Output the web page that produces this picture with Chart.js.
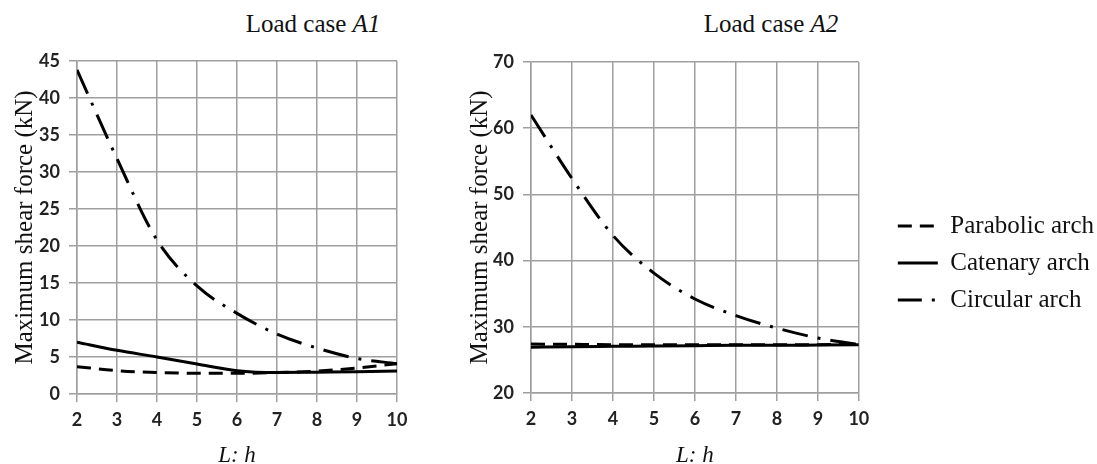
<!DOCTYPE html>
<html>
<head>
<meta charset="utf-8">
<script src="https://cdn.jsdelivr.net/npm/chart.js@4.4.1/dist/chart.umd.min.js"></script>
<style>
  html, body { margin: 0; padding: 0; background: #fff; overflow: hidden; }
  body { position: relative; width: 1097px; height: 464px; }
  canvas { position: absolute; top: 0; }
  #c1 { left: 0; }
  #c2 { left: 460px; }
  .ttl { position: absolute; top: 9px; transform: translateX(-50%); font: 25px "Liberation Serif", serif; line-height: 30px; color: #111; white-space: nowrap; }
</style>
</head>
<body>
<div class="ttl" style="left:313px">Load case <i>A1</i></div>
<div class="ttl" style="left:771px">Load case <i>A2</i></div>
<canvas id="c1" width="460" height="464"></canvas>
<canvas id="c2" width="644" height="464"></canvas>
<script>
// L:h ratios on the x axis
const ratios = [2, 3, 4, 5, 6, 7, 8, 9, 10];
const seriesNames = ['Parabolic arch', 'Catenary arch', 'Circular arch'];

// load case A1 (kN)
const parabolicA1 = [3.7, 3.15, 2.9, 2.8, 2.8, 2.9, 3.1, 3.5, 4.1];
const catenaryA1  = [7.0, 5.9, 5.0, 4.05, 3.15, 2.9, 2.95, 3.0, 3.1];
const circularA1  = [43.8, 31.8, 20.8, 14.6, 10.9, 8.1, 6.2, 4.8, 4.1];

// load case A2 (kN)
const parabolicA2 = [27.4, 27.35, 27.3, 27.3, 27.3, 27.3, 27.3, 27.3, 27.4];
const catenaryA2  = [26.9, 27.0, 27.05, 27.1, 27.15, 27.2, 27.2, 27.25, 27.3];
const circularA2  = [62.0, 52.4, 43.8, 38.1, 34.2, 31.7, 29.8, 28.3, 27.3];

const yTicksA1 = { min: 0, max: 45, step: 5 };
const yTicksA2 = { min: 20, max: 70, step: 10 };

const dashes = [[14, 8], [], [26, 10, 3, 10]];
const legendDashOffset = [0, 0, 2];

const serif = 'Liberation Serif';
const gridGrey = '#9f9f9f';
const tickFont = { family: 'Lato', weight: 'bold', size: 18 };

function makeSets(values) {
  return values.map((v, i) => ({
    label: seriesNames[i],
    data: ratios.map((r, j) => ({ x: r, y: v[j] })),
    borderColor: '#000',
    backgroundColor: '#000',
    borderWidth: 3,
    borderDash: dashes[i],
    pointRadius: 0,
    cubicInterpolationMode: 'monotone',
    fill: false
  }));
}

function xScale(h) {
  return {
    type: 'linear', min: 2, max: 10,
    ticks: { stepSize: 1, padding: 7, color: '#222', font: tickFont },
    grid: { color: gridGrey, lineWidth: 1.5, tickLength: 8, tickColor: gridGrey },
    border: { color: gridGrey, width: 1.5 },
    title: { display: true, text: 'L: h', color: '#111', padding: { top: 0, bottom: -3 },
             font: { family: serif, style: 'italic', size: 23, lineHeight: 1 } },
    afterFit(s) { s.height = h; }
  };
}

function yScale(t, w, pt) {
  return {
    type: 'linear', min: t.min, max: t.max,
    ticks: { stepSize: t.step, padding: 9, color: '#222', font: tickFont },
    grid: { color: gridGrey, lineWidth: 1.5, tickLength: 8, tickColor: gridGrey },
    border: { color: gridGrey, width: 1.5 },
    title: { display: true, text: 'Maximum shear force (kN)', color: '#111',
             padding: { top: pt, bottom: 0 }, font: { family: serif, size: 25 } },
    afterFit(s) { s.width = w; }
  };
}

new Chart(document.getElementById('c1'), {
  type: 'line',
  data: { datasets: makeSets([parabolicA1, catenaryA1, circularA1]) },
  options: {
    responsive: false,
    animation: false,
    layout: { padding: { top: 61, right: 63, bottom: 0, left: 0 } },
    plugins: { legend: { display: false }, tooltip: { enabled: false } },
    scales: { x: xScale(70), y: yScale(yTicksA1, 77, 10) }
  }
});

new Chart(document.getElementById('c2'), {
  type: 'line',
  data: { datasets: makeSets([parabolicA2, catenaryA2, circularA2]) },
  options: {
    responsive: false,
    animation: false,
    layout: { padding: { top: 62, right: 0, bottom: 0, left: 0 } },
    plugins: {
      tooltip: { enabled: false },
      legend: {
        display: true, position: 'right', align: 'center', maxWidth: 260,
        labels: {
          usePointStyle: true, pointStyle: 'line', pointStyleWidth: 40, padding: 12,
          color: '#111', font: { family: serif, size: 25 },
          generateLabels(chart) {
            const items = Chart.defaults.plugins.legend.labels.generateLabels(chart);
            items.forEach((it, i) => {
              it.lineDash = dashes[i];
              it.lineDashOffset = legendDashOffset[i];
              it.lineWidth = 3;
              it.strokeStyle = '#000';
            });
            return items;
          }
        }
      }
    },
    scales: {
      x: xScale(71),
      y: yScale(yTicksA2, 71, 5),
      // empty spacer between the plot and the legend
      gap: { type: 'linear', position: 'right', display: true,
             grid: { display: false, drawTicks: false }, border: { display: false },
             ticks: { display: false }, afterFit(s) { s.width = 27; } }
    }
  }
});
</script>
</body>
</html>
